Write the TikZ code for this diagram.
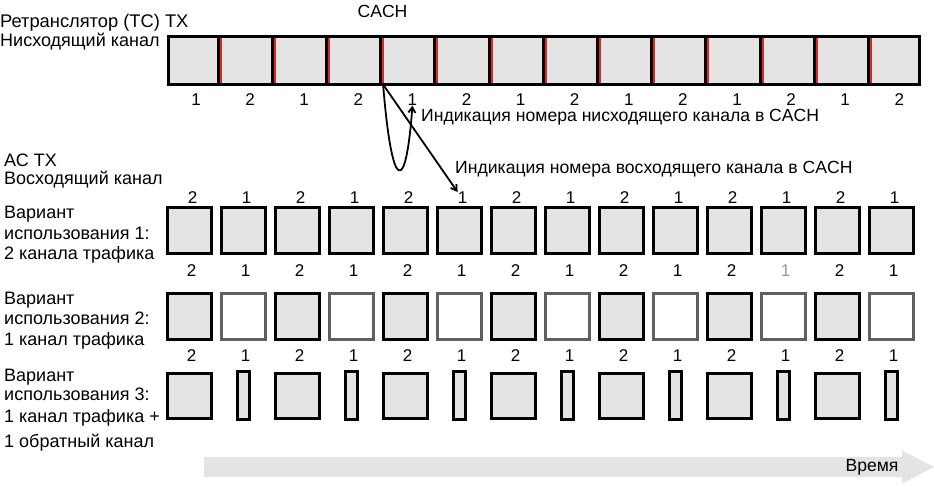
\documentclass[tikz,border=0pt]{standalone}
\usepackage{fontspec}
\setmainfont{Liberation Sans}
\usetikzlibrary{arrows.meta,positioning,calc}
\definecolor{SlotFill}{RGB}{228,228,228}
\definecolor{CachRed}{RGB}{225,35,35}
\definecolor{IdleEdge}{RGB}{95,95,95}
\definecolor{FaintNum}{RGB}{150,150,150}
\tikzset{
  dlslot/.style={draw=black,fill=SlotFill,line width=3pt,minimum height=48pt,inner sep=0pt,outer sep=0pt},
  cachline/.style={draw=CachRed,line width=2pt},
  slotbox/.style={draw=black,fill=SlotFill,line width=3.2pt,minimum width=43.5pt,minimum height=46pt,inner sep=0pt,outer sep=0pt},
  idlebox/.style={slotbox,draw=IdleEdge,fill=white,line width=2.6pt},
  sqbox/.style={slotbox,minimum height=45pt},
  thinbox/.style={slotbox,minimum width=12.5pt,minimum height=47.5pt},
  slotnum/.style={font=\fontsize{17}{17}\selectfont,inner sep=0pt},
  sidetext/.style={font=\fontsize{18}{20.5}\selectfont,align=left,anchor=north west,inner sep=0pt},
  note/.style={font=\fontsize{17.6}{20}\selectfont,anchor=west,inner sep=0pt},
  indarrow/.style={-{Straight Barb[length=5.5pt,width=7pt]},line width=1.8pt},
  timebar/.style={fill=SlotFill}
}

\begin{document}
\begin{tikzpicture}[x=1pt,y=-1pt]
\useasboundingbox (0,0) rectangle (934,487);

% repeater TX, downlink
\node[sidetext,font=\fontsize{18}{18.5}\selectfont] (rtx) at (0,14.5) {{\fontsize{18.3}{18.5}\selectfont Ретранслятор (TC) TX}\\Нисходящий канал};
\node[note,anchor=center] (cach) at (382.5,11) {CACH};
\foreach \i in {1,...,14} {
  \pgfmathsetmacro\xl{\i==1 ? 168 : 218+54.2*(\i-2)}
  \pgfmathsetmacro\xr{\i==14 ? 919.5 : 218+54.2*(\i-1)}
  \pgfmathtruncatemacro\ch{2-mod(\i,2)}
  \node[dlslot,minimum width=\xr-\xl] (dl\i) at ({(\xl+\xr)/2},60.5) {};
  \node[slotnum] (dn\i) at ({196+54.1*(\i-1)},99.5) {\ch};
}
\foreach \i in {1,...,13}
  \draw[cachline] ([xshift=2.5pt,yshift=-1.5pt]dl\i.north east) -- ([xshift=2.5pt,yshift=1.5pt]dl\i.south east);

% MS TX, uplink
\node[sidetext,font=\fontsize{18}{17.5}\selectfont] (mtx) at (4,154) {АС ТХ\\Восходящий канал};
\node[sidetext] (var1) at (4,206) {Вариант\\использования 1:\\2 канала трафика};
\node[sidetext] (var2) at (4,291.5) {Вариант\\использования 2:\\1 канал трафика};
\node[sidetext] (var3) at (4,368.5) {Вариант\\[-1pt]использования 3:\\[1.5pt]1 канал трафика +\\[4.5pt]1 обратный канал};

\foreach \i in {1,...,14} {
  \pgfmathsetmacro\cx{189.5+54*(\i-1)}
  \pgfmathtruncatemacro\ch{1+mod(\i,2)}
  \def\numcol{black}
  \ifnum\i=12 \def\numcol{FaintNum}\fi
  % variant 1
  \node[slotbox] (ua\i) at (\cx,230.5) {};
  \node[slotnum] (ual\i) at (\cx+3,198) {\ch};
  % variant 2
  \ifodd\i
    \node[slotbox] (ub\i) at (\cx,316.5) {};
    \node[sqbox] (uc\i) at (\cx,396) {};
  \else
    \node[idlebox] (ub\i) at (\cx,316.5) {};
    \node[thinbox] (uc\i) at (\cx,395.5) {};
  \fi
  \node[slotnum,text=\numcol] (ubl\i) at (\cx+2,271) {\ch};
  % variant 3
  \node[slotnum] (ucl\i) at (\cx+2,356) {\ch};
}

% CACH indications
\coordinate (cachfoot) at ([xshift=2.5pt]dl4.south east);
\draw[indarrow] (cachfoot) -- (ual6.north west);
\draw[indarrow] (cachfoot) .. controls (392,195) and (406,195) .. (dn5.south);
\node[note] (dnote) at (421,117) {Индикация номера нисходящего канала в CACH};
\node[note] (unote) at (455,169) {Индикация номера восходящего канала в CACH};

% time axis
\fill[timebar] (204,457) -- (902,457) -- (902,450.5) -- (934,467) -- (902,483.5) -- (902,477) -- (204,477) -- cycle;
\node[note,anchor=center] (time) at (872,467) {Время};
\end{tikzpicture}
\end{document}
